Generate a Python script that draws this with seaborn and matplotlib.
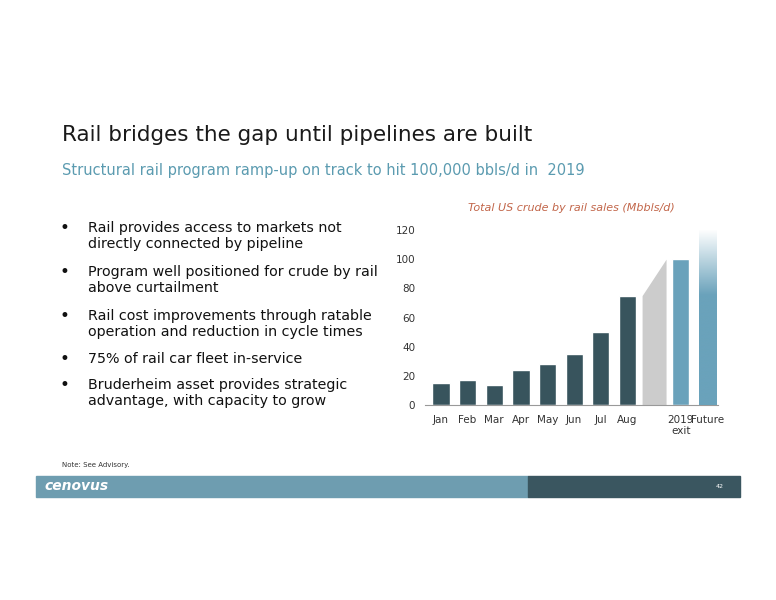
import matplotlib
matplotlib.use("Agg")
import matplotlib.pyplot as plt
import seaborn as sns
import numpy as np
import pandas as pd
from matplotlib.patches import Rectangle
from matplotlib.colors import LinearSegmentedColormap

months = ["Jan", "Feb", "Mar", "Apr", "May", "Jun", "Jul", "Aug"]
month_vals = [15, 17, 14, 24, 28, 35, 50, 75]
exit_label = "2019\nexit"
exit_val = 100
future_label = "Future"
future_val = 120
bullets = [
    "Rail provides access to markets not\ndirectly connected by pipeline",
    "Program well positioned for crude by rail\nabove curtailment",
    "Rail cost improvements through ratable\noperation and reduction in cycle times",
    "75% of rail car fleet in-service",
    "Bruderheim asset provides strategic\nadvantage, with capacity to grow",
]
bullet_y = [221, 265, 309, 352, 378]

sns.set_style("white")
plt.rcParams['font.family'] = ['DejaVu Sans']
W, H = 776, 600
fig = plt.figure(figsize=(W/100, H/100), dpi=100)

def fx(x): return x / W
def fy(y): return 1 - y / H

fig.text(fx(62), fy(135), "Rail bridges the gap until pipelines are built", fontsize=15.5, color="#1a1a1a", va="center")
fig.text(fx(62), fy(171), "Structural rail program ramp-up on track to hit 100,000 bbls/d in  2019", fontsize=10.5, color="#5b9bb0", va="center")
for t, y in zip(bullets, bullet_y):
    fig.text(fx(60), fy(y-2), "•", fontsize=12, color="#111111", va="top")
    fig.text(fx(88), fy(y), t, fontsize=10.3, color="#111111", va="top", linespacing=1.2)
fig.text(fx(62), fy(465), "Note: See Advisory.", fontsize=5, color="#333333", va="center")

# footer band
fig.patches.append(Rectangle((fx(36), fy(497)), fx(528-36), (497-476)/H, transform=fig.transFigure, color="#6e9db0"))
fig.patches.append(Rectangle((fx(528), fy(497)), fx(740-528), (497-476)/H, transform=fig.transFigure, color="#3a5660"))
fig.text(fx(44), fy(486), "cenovus", fontsize=10, color="white", style="italic", weight="bold", va="center")
fig.text(fx(716), fy(487), "42", fontsize=4.5, color="white", va="center")

ax = fig.add_axes([fx(425), fy(405), fx(718-425), (405-230)/H])
cats = months + [" ", exit_label, future_label]
vals = month_vals + [0, exit_val, future_val]
colors = ["#38545d"]*8 + ["#ffffff", "#6aa2bb", "#6aa2bb"]
df = pd.DataFrame({"cat": cats, "val": vals})
sns.barplot(data=df, x="cat", y="val", hue="cat", palette=colors, legend=False, width=0.65, ax=ax, saturation=1)
ax.fill_between([8 - 0.45, 8 + 0.45], [month_vals[-1], exit_val], 0, color="#cccccc", linewidth=0)
cmap = LinearSegmentedColormap.from_list("g", ["#6aa2bb", "#ffffff"])
fade = np.clip((np.linspace(0, 120, 256) - 75) / 45, 0, 1).reshape(-1, 1)
ax.imshow(fade, extent=[10 - 0.325, 10 + 0.325, 0, future_val], origin="lower", cmap=cmap, aspect="auto", zorder=3)
ax.set_xlim(-0.6, 10.4)
ax.set_ylim(0, 120)
ax.set_yticks([0, 20, 40, 60, 80, 100, 120])
ax.tick_params(labelsize=7.5, colors="#333333", length=0, pad=7)
ax.set_xlabel(""); ax.set_ylabel("")
for s in ["top", "right", "left"]:
    ax.spines[s].set_visible(False)
ax.spines["bottom"].set_color("#999999")
ax.set_title("Total US crude by rail sales (Mbbls/d)", fontsize=8, style="italic", color="#c2664a", pad=14)
fig.savefig("out.png", dpi=100)
